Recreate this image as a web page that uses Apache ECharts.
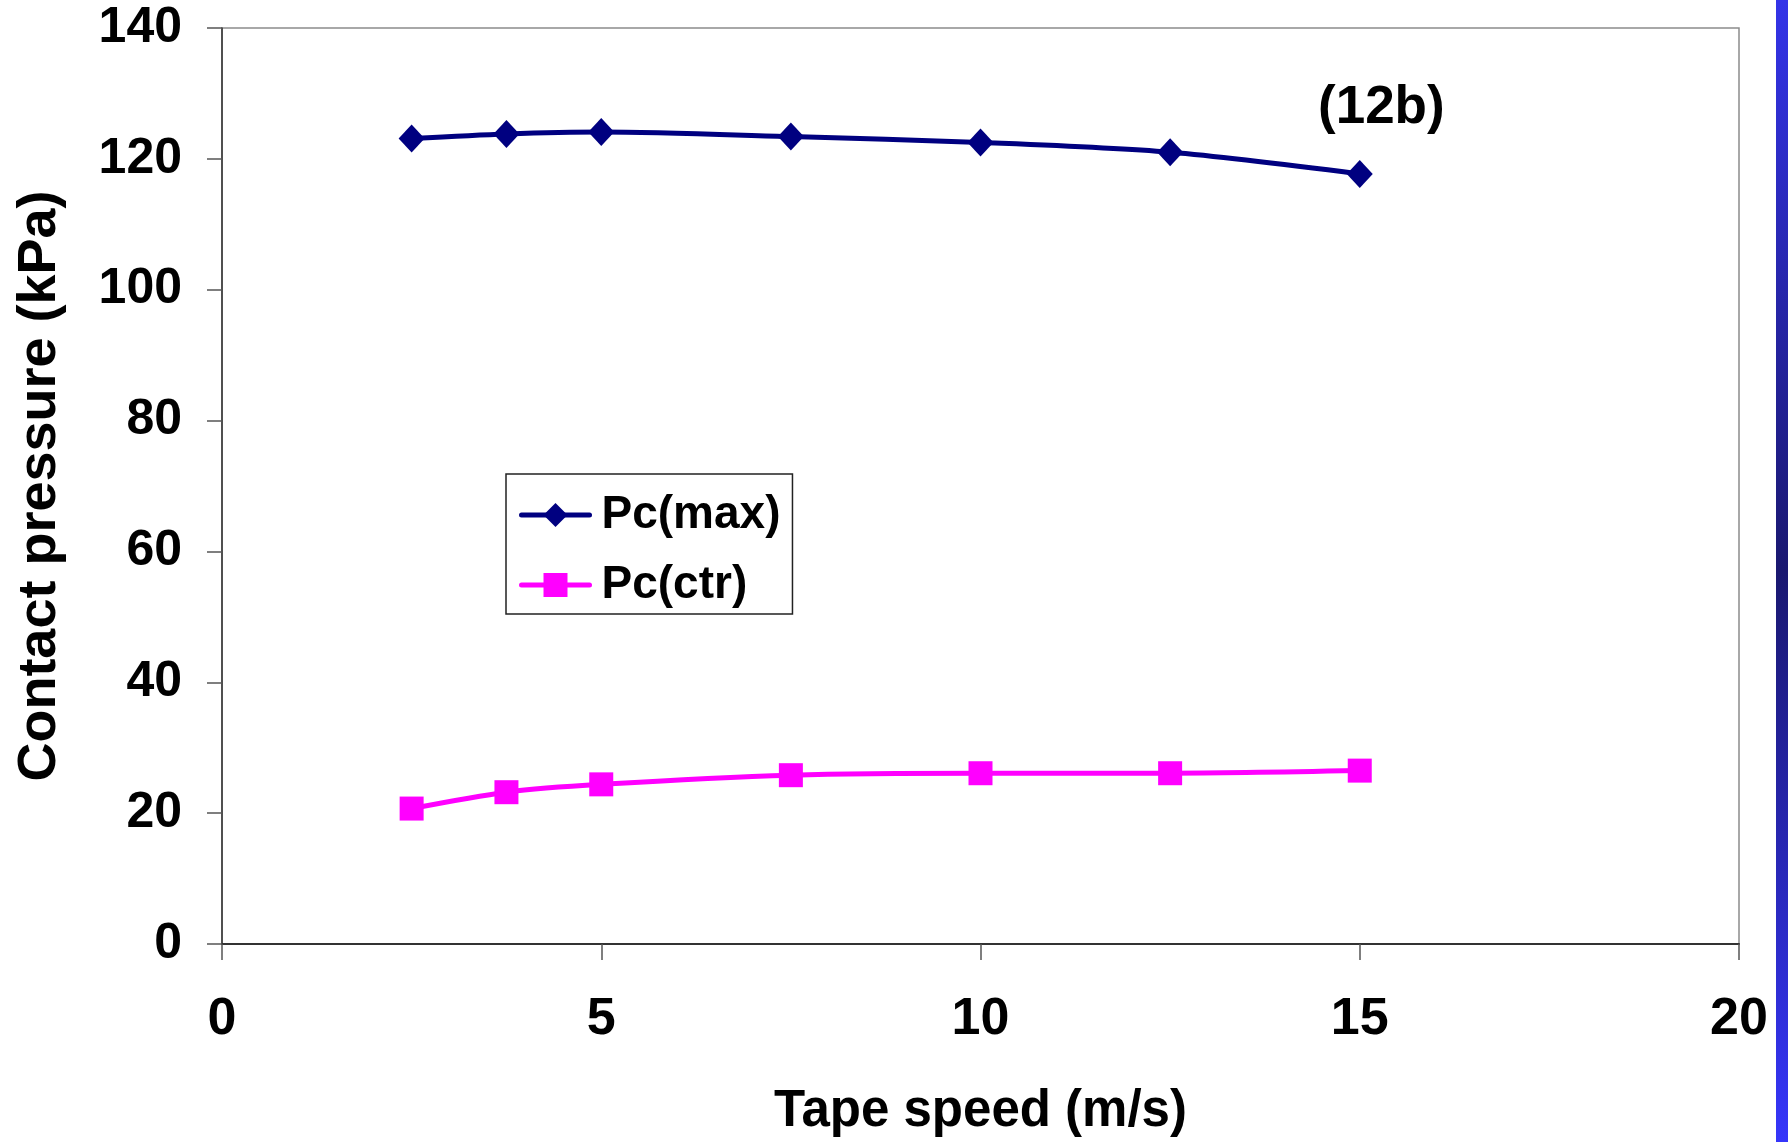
<!DOCTYPE html>
<html>
<head>
<meta charset="utf-8">
<style>
  html, body { margin: 0; padding: 0; background: #ffffff; }
  #chart { width: 1788px; height: 1142px; }
</style>
<script src="https://cdn.jsdelivr.net/npm/echarts@6/dist/echarts.min.js"></script>
</head>
<body>
<div id="chart"></div>
<script>
// Tape speed (m/s) and contact pressure (kPa) readings
const speeds = [2.5, 3.75, 5, 7.5, 10, 12.5, 15];
const pcMax = [123.1, 123.8, 124.1, 123.4, 122.5, 121.0, 117.7];
const pcCtr = [20.7, 23.2, 24.4, 25.8, 26.1, 26.1, 26.5];
const seriesNames = ['Pc(max)', 'Pc(ctr)'];
const xTicks = [0, 5, 10, 15, 20];
const yTicks = [0, 20, 40, 60, 80, 100, 120, 140];

const FONT = '"Liberation Sans", Arial, Helvetica, sans-serif';

function pairs(xs, ys) {
  return xs.map((x, i) => [x, ys[i]]);
}

const chart = echarts.init(document.getElementById('chart'), null, { renderer: 'canvas' });

chart.setOption({
  backgroundColor: '#ffffff',
  animation: false,
  grid: {
    left: 222,
    right: 49,
    top: 28,
    bottom: 198,
    show: true,
    borderColor: '#8c8c8c',
    borderWidth: 1.5,
    backgroundColor: '#ffffff'
  },
  legend: {
    orient: 'vertical',
    left: 506,
    top: 474,
    data: seriesNames,
    backgroundColor: '#ffffff',
    borderColor: '#222222',
    borderWidth: 1.5,
    padding: [16, 12, 4, 13],
    itemWidth: 68,
    itemHeight: 30,
    itemGap: 20,
    lineStyle: { width: 5, cap: 'round' },
    textStyle: {
      fontFamily: FONT,
      fontWeight: 'bold',
      fontSize: 46,
      lineHeight: 50,
      color: '#000000',
      padding: [0, 0, 0, 7]
    }
  },
  xAxis: {
    type: 'value',
    min: xTicks[0],
    max: xTicks[xTicks.length - 1],
    interval: xTicks[1] - xTicks[0],
    name: 'Tape speed (m/s)',
    nameLocation: 'middle',
    nameGap: 142,
    nameTextStyle: {
      fontFamily: FONT,
      fontWeight: 'bold',
      fontSize: 51,
      color: '#000000'
    },
    axisLine: { show: true, onZero: false, lineStyle: { color: '#333333', width: 2 } },
    axisTick: { show: true, inside: false, length: 16, lineStyle: { color: '#555555', width: 1.5 } },
    axisLabel: {
      margin: 50,
      fontFamily: FONT,
      fontWeight: 'bold',
      fontSize: 52,
      color: '#000000'
    },
    splitLine: { show: false }
  },
  yAxis: {
    type: 'value',
    min: yTicks[0],
    max: yTicks[yTicks.length - 1],
    interval: yTicks[1] - yTicks[0],
    name: 'Contact pressure (kPa)',
    nameLocation: 'middle',
    nameGap: 155,
    nameTextStyle: {
      fontFamily: FONT,
      fontWeight: 'bold',
      fontSize: 54,
      color: '#000000'
    },
    axisLine: { show: true, lineStyle: { color: '#333333', width: 1.5 } },
    axisTick: { show: true, inside: false, length: 15, lineStyle: { color: '#555555', width: 1.5 } },
    axisLabel: {
      margin: 40,
      fontFamily: FONT,
      fontWeight: 'bold',
      fontSize: 50,
      color: '#000000'
    },
    splitLine: { show: false }
  },
  series: [
    {
      name: seriesNames[0],
      type: 'line',
      data: pairs(speeds, pcMax),
      smooth: 0.3,
      symbol: 'diamond',
      symbolSize: [26, 28],
      lineStyle: { color: '#000080', width: 5 },
      itemStyle: { color: '#000080' },
      z: 3
    },
    {
      name: seriesNames[1],
      type: 'line',
      data: pairs(speeds, pcCtr),
      smooth: 0.3,
      symbol: 'rect',
      symbolSize: 24,
      lineStyle: { color: '#ff00ff', width: 5 },
      itemStyle: { color: '#ff00ff' },
      z: 3
    }
  ],
  graphic: [
    {
      type: 'text',
      left: 1318,
      top: 82,
      style: {
        text: '(12b)',
        fontFamily: FONT,
        fontWeight: 'bold',
        fontSize: 53,
        fill: '#000000'
      },
      z: 10
    },
    {
      type: 'rect',
      shape: { x: 1776, y: 0, width: 12, height: 1142 },
      style: {
        fill: new echarts.graphic.LinearGradient(0, 0, 0, 1, [
          { offset: 0, color: '#3434e8' },
          { offset: 0.5, color: '#1a1870' },
          { offset: 1, color: '#3636fa' }
        ])
      },
      z: 10
    }
  ]
});
</script>
</body>
</html>
